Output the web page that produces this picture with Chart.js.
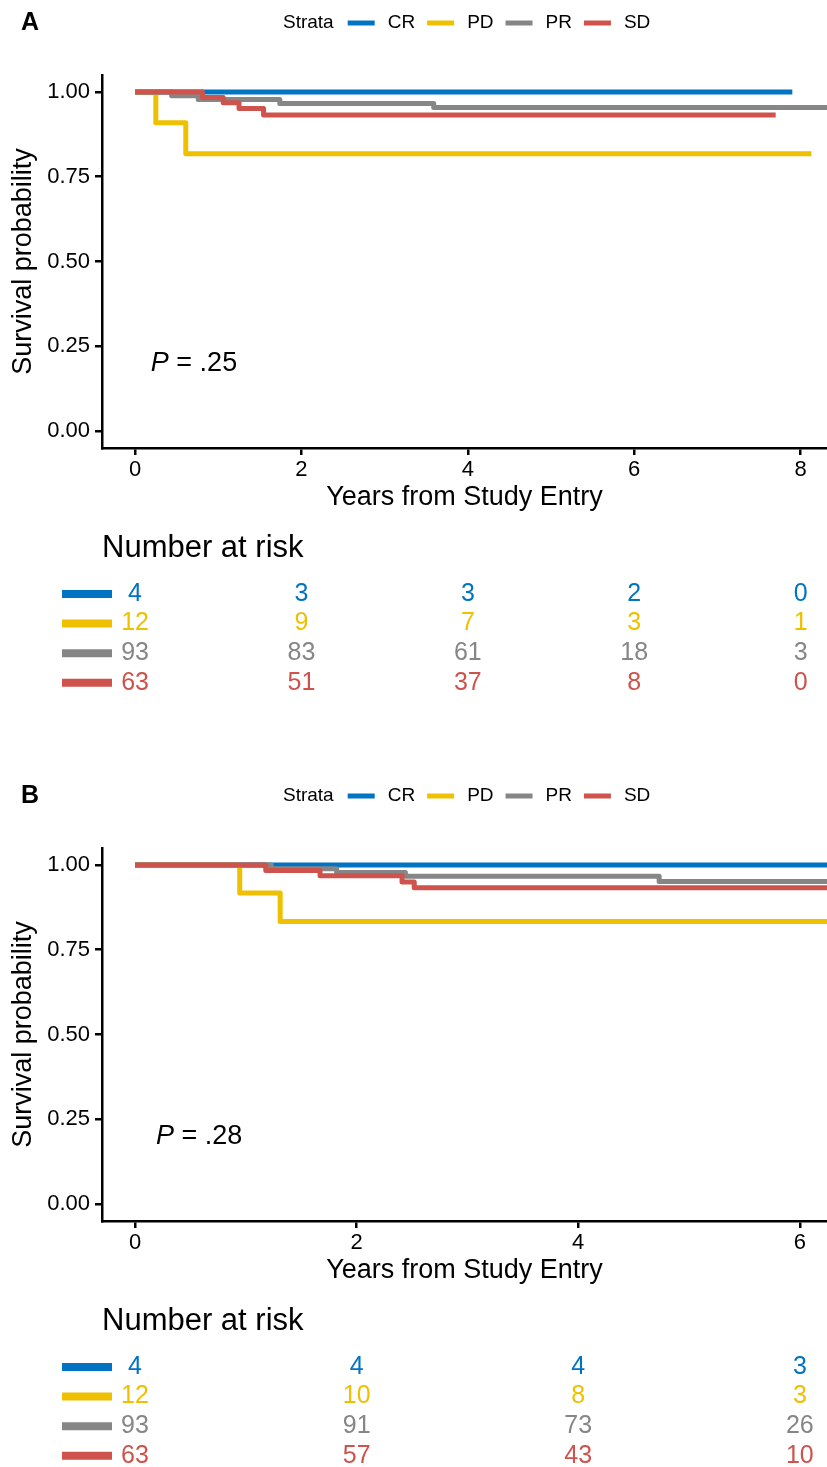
<!DOCTYPE html>
<html><head><meta charset="utf-8">
<script src="https://cdn.jsdelivr.net/npm/chart.js@4.4.1/dist/chart.umd.min.js"></script>
<style>
html,body{margin:0;padding:0;background:#fff;}
body{width:827px;height:1467px;position:relative;overflow:hidden;}
canvas{position:absolute;left:0;}
#cA{top:0;} #cB{top:773px;}
</style></head><body>
<canvas id="cA" width="827" height="730"></canvas>
<canvas id="cB" width="827" height="694"></canvas>
<script>
const strata = ['CR', 'PD', 'PR', 'SD'];
const colors = ['#0073C2', '#EFC000', '#868686', '#CD534C'];
const yTicks = [0, 0.25, 0.5, 0.75, 1];

// Panel A
const A_xTicks = [0, 2, 4, 6, 8];
const A_CR_time = [0, 7.90];                          const A_CR_surv = [1, 1];
const A_PD_time = [0, 0.25, 0.61, 8.13];              const A_PD_surv = [1, 0.909, 0.818, 0.818];
const A_PR_time = [0, 0.44, 0.76, 1.74, 3.59, 8.45];  const A_PR_surv = [1, 0.989, 0.978, 0.966, 0.954, 0.954];
const A_SD_time = [0, 0.81, 1.06, 1.25, 1.545, 7.70]; const A_SD_surv = [1, 0.984, 0.968, 0.951, 0.932, 0.932];
const A_risk_CR = [4, 3, 3, 2, 0];
const A_risk_PD = [12, 9, 7, 3, 1];
const A_risk_PR = [93, 83, 61, 18, 3];
const A_risk_SD = [63, 51, 37, 8, 0];
const A_pval = '.25';

// Panel B
const B_xTicks = [0, 2, 4, 6];
const B_CR_time = [0, 6.4];                           const B_CR_surv = [1, 1];
const B_PD_time = [0, 0.945, 1.31, 6.4];              const B_PD_surv = [1, 0.917, 0.833, 0.833];
const B_PR_time = [0, 1.23, 1.82, 2.44, 4.73, 6.4];   const B_PR_surv = [1, 0.989, 0.978, 0.967, 0.951, 0.951];
const B_SD_time = [0, 1.18, 1.67, 2.41, 2.52, 6.4];   const B_SD_surv = [1, 0.984, 0.968, 0.950, 0.933, 0.933];
const B_risk_CR = [4, 4, 4, 3];
const B_risk_PD = [12, 10, 8, 3];
const B_risk_PR = [93, 91, 73, 26];
const B_risk_SD = [63, 57, 43, 10];
const B_pval = '.28';

const FONT = '"Liberation Sans", Arial, Helvetica, sans-serif';
const pvalPos = {x: 0.19, y: 0.2};

const annot = {
  id: 'annot',
  afterDraw(chart) {
    const o = chart.options.plugins.annot;
    const ctx = chart.ctx;
    const xs = chart.scales.x, ys = chart.scales.y;
    ctx.save();
    // panel label
    ctx.fillStyle = '#000';
    ctx.textBaseline = 'middle';
    ctx.textAlign = 'left';
    ctx.font = 'bold 25px ' + FONT;
    ctx.fillText(o.label, 21, 23);
    // legend
    ctx.font = '19px ' + FONT;
    let lx = 283;
    ctx.fillText('Strata', lx, 23);
    lx += ctx.measureText('Strata').width + 14;
    strata.forEach((s, i) => {
      ctx.strokeStyle = colors[i];
      ctx.lineWidth = 5;
      ctx.beginPath();
      ctx.moveTo(lx, 23); ctx.lineTo(lx + 27, 23);
      ctx.stroke();
      lx += 27 + 13;
      ctx.fillStyle = '#000';
      ctx.fillText(s, lx, 23);
      lx += ctx.measureText(s).width + 12;
    });
    // p value
    const px = xs.getPixelForValue(pvalPos.x), py = ys.getPixelForValue(pvalPos.y);
    ctx.font = 'italic 27px ' + FONT;
    ctx.fillText('P', px, py);
    const pw = ctx.measureText('P').width;
    ctx.font = '27px ' + FONT;
    ctx.fillText(' = ' + o.pval, px + pw, py);
    // risk table
    ctx.font = '31px ' + FONT;
    ctx.fillStyle = '#000';
    ctx.fillText('Number at risk', 102, 548);
    ctx.font = '25px ' + FONT;
    ctx.textAlign = 'center';
    o.risk.forEach((row, i) => {
      const ry = 594 + i * 29.6;
      ctx.strokeStyle = colors[i];
      ctx.lineWidth = 8;
      ctx.beginPath();
      ctx.moveTo(62, ry); ctx.lineTo(112, ry);
      ctx.stroke();
      ctx.fillStyle = colors[i];
      row.forEach((n, j) => {
        ctx.fillText(String(n), xs.getPixelForValue(o.ticks[j]), ry);
      });
    });
    ctx.restore();
  }
};

function makePanel(id, height, xmin, xmax, xTicks, times, survs, risk, pval, label) {
  const datasets = strata.map((name, i) => ({
    label: name,
    data: times[i].map((t, j) => ({x: t, y: survs[i][j]})),
    borderColor: colors[i],
    backgroundColor: colors[i],
    borderWidth: 5,
    stepped: 'before',
    pointRadius: 0,
    showLine: true,
    fill: false,
    borderJoinStyle: 'round',
    borderCapStyle: 'butt',
    order: 4 - i
  }));
  const axisFont = {family: FONT, size: 22};
  const titleFont = {family: FONT, size: 27};
  return new Chart(document.getElementById(id), {
    type: 'scatter',
    data: {datasets},
    plugins: [annot],
    options: {
      responsive: false,
      animation: false,
      events: [],
      layout: {padding: {top: 75, left: 0, right: 0, bottom: height - 448 - 66}},
      plugins: {
        legend: {display: false},
        tooltip: {enabled: false},
        annot: {label, pval, risk, ticks: xTicks}
      },
      scales: {
        x: {
          type: 'linear', min: xmin, max: xmax,
          afterBuildTicks: s => { s.ticks = xTicks.map(v => ({value: v})); },
          afterFit: s => { s.height = 66; },
          ticks: {font: axisFont, color: '#000', padding: 2, maxRotation: 0, autoSkip: false, callback: v => String(v)},
          grid: {drawOnChartArea: false, drawTicks: true, tickLength: 7, color: '#000', lineWidth: 2.5},
          border: {display: true, color: '#000', width: 2.5},
          title: {display: true, text: 'Years from Study Entry', font: titleFont, color: '#000', padding: {top: 0, bottom: 0}}
        },
        y: {
          type: 'linear', min: -0.05, max: 1.05,
          afterBuildTicks: s => { s.ticks = yTicks.map(v => ({value: v})); },
          afterFit: s => { s.width = 102; },
          ticks: {font: axisFont, color: '#000', padding: 5, autoSkip: false, callback: v => Number(v).toFixed(2)},
          grid: {drawOnChartArea: false, drawTicks: true, tickLength: 7, color: '#000', lineWidth: 2.5},
          border: {display: true, color: '#000', width: 2.5},
          title: {display: true, text: 'Survival probability', font: titleFont, color: '#000', padding: {top: 7, bottom: 0}}
        }
      }
    }
  });
}

makePanel('cA', 730, -0.397, 8.317, A_xTicks,
  [A_CR_time, A_PD_time, A_PR_time, A_SD_time],
  [A_CR_surv, A_PD_surv, A_PR_surv, A_SD_surv],
  [A_risk_CR, A_risk_PD, A_risk_PR, A_risk_SD], A_pval, 'A');
makePanel('cB', 694, -0.298, 6.245, B_xTicks,
  [B_CR_time, B_PD_time, B_PR_time, B_SD_time],
  [B_CR_surv, B_PD_surv, B_PR_surv, B_SD_surv],
  [B_risk_CR, B_risk_PD, B_risk_PR, B_risk_SD], B_pval, 'B');
</script>
</body></html>
